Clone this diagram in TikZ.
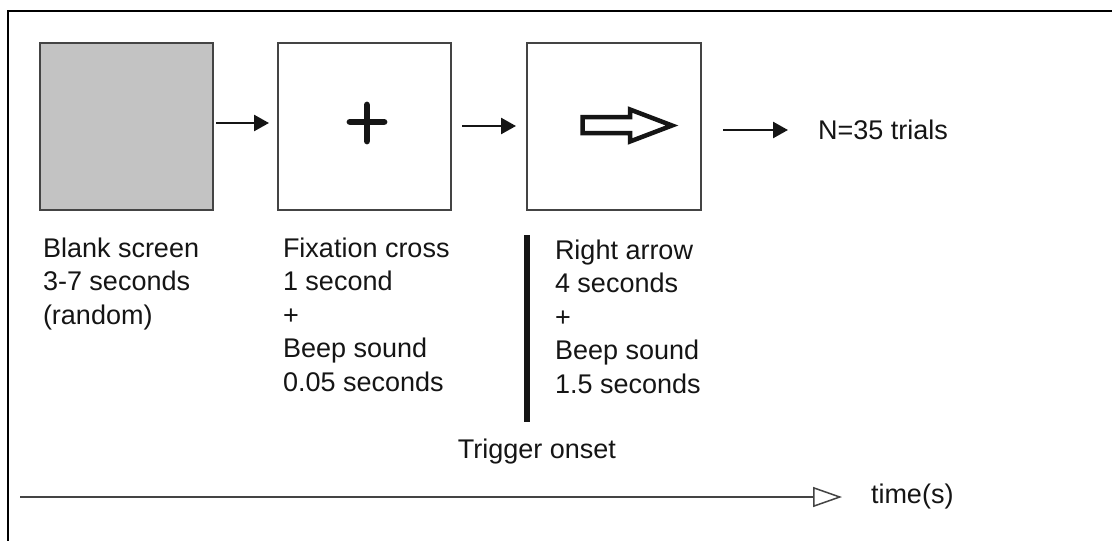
\documentclass[tikz,border=0pt]{standalone}
\usepackage{fontspec}
\setmainfont{Liberation Sans}
\usetikzlibrary{arrows.meta}
\definecolor{boxgray}{HTML}{C3C3C3}
\definecolor{edge}{HTML}{444444}
\definecolor{ink}{HTML}{151515}
\begin{document}
\begin{tikzpicture}[x=1pt,y=-1pt,
  screen/.style={draw=edge, line width=1.6pt, minimum width=173pt, minimum height=167pt, anchor=north west, inner sep=0pt, outer sep=0pt},
  lbl/.style={text=ink, inner sep=0pt, outer sep=0pt, font=\fontsize{27}{33.5}\selectfont},
  block/.style={lbl, align=left, anchor=base west},
  arr/.style={line width=2.6pt, draw=ink, -{Triangle[length=15pt,width=16pt]}},
  axisline/.style={line width=1.5pt, draw=edge, -{Triangle[open,length=29pt,width=20pt,line width=1.5pt]}}
]
\useasboundingbox (0,0) rectangle (1112,541);
\fill[white] (0,0) rectangle (1112,541);
% outer frame (only left and top visible)
\draw[line width=2pt, black] (8,560) -- (8,11) -- (1130,11);

% screens
\node[screen, fill=boxgray] (b1) at (40,43) {};
\node[screen, fill=white] (b2) at (278,43) {};
\node[screen, fill=white, minimum width=174pt] (b3) at (527,43) {};

% fixation cross
\draw[line width=6.8pt, line cap=round, ink] (367,105) -- (367,141) (350,122) -- (384,122);

% outlined right arrow
\draw[line width=4.5pt, line join=miter, ink]
  (582.5,117) -- (630,117) -- (630,109.5) -- (672,125.5) -- (630,141.5) -- (630,133) -- (582.5,133) -- cycle;

% labels (base anchor = baseline of the last line)
\node[lbl, anchor=west] (n) at (818,130) {N=35 trials};
\node[block] (t1) at (43,324) {Blank screen\\3-7 seconds\\(random)};
\node[block] (t2) at (283,391) {Fixation cross\\1 second\\+\\Beep sound\\0.05 seconds};
\node[block] (t3) at (555,393) {Right arrow\\4 seconds\\+\\Beep sound\\1.5 seconds};

% trigger bar
\draw[line width=6.5pt, ink] (527,235) -- (527,422);
\node[lbl] (trig) at (537,452) {Trigger onset};

% flow arrows
\draw[arr] ([xshift=3pt,yshift=3.5pt]b1.east) -- ([xshift=-9pt,yshift=3.5pt]b2.west);
\draw[arr] ([xshift=11pt,yshift=0.5pt]b2.east) -- ([xshift=-11pt,yshift=0.5pt]b3.west);
\draw[arr] ([xshift=22pt,yshift=-3.5pt]b3.east) -- ([xshift=-30pt]n.west);

% time axis
\coordinate (ax) at (20,497);
\node[lbl, anchor=west] (time) at (871,497) {time(s)};
\draw[axisline] (ax) -- ([xshift=-29pt]time.west |- ax);
\end{tikzpicture}
\end{document}
